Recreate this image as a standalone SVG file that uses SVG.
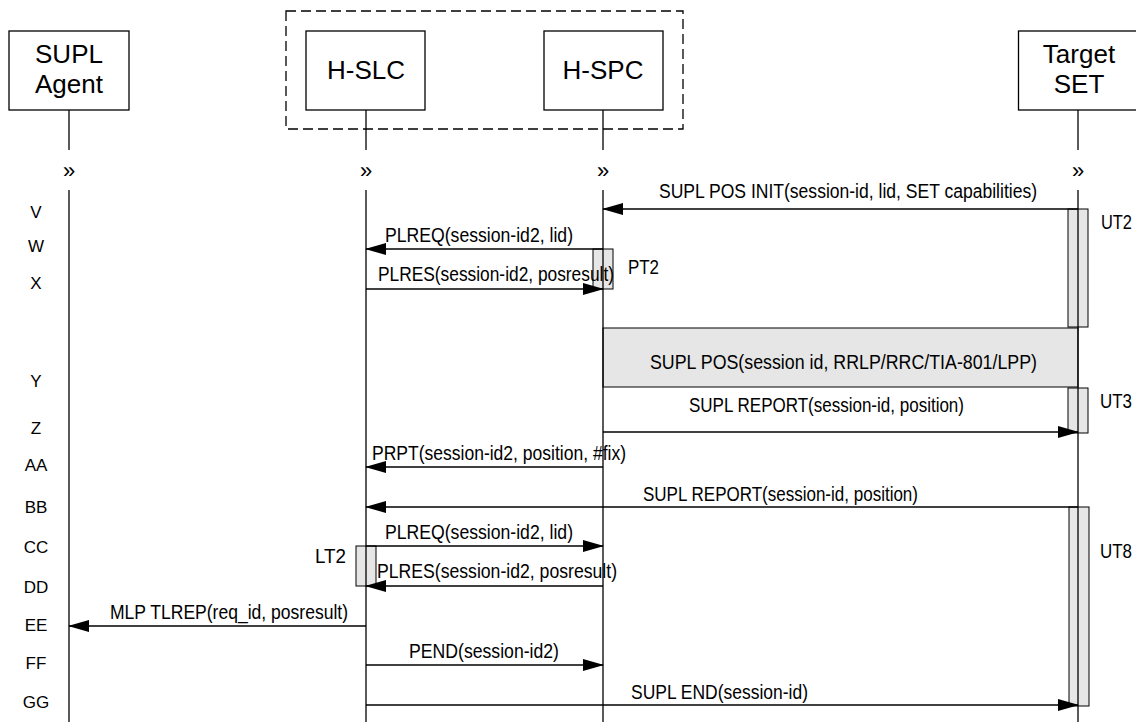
<svg xmlns="http://www.w3.org/2000/svg" width="1136" height="722" viewBox="0 0 1136 722">
<defs>
<style>
.box{fill:#fff;stroke:#000;stroke-width:1.3}
.act{fill:#e6e6e6;stroke:#000;stroke-width:1}
.life{stroke:#000;stroke-width:1.3;fill:none}
.msg{stroke:#000;stroke-width:1.3;fill:none;marker-end:url(#ah)}
.hd{font-family:"Liberation Sans",Arial,sans-serif;font-size:26px;fill:#000;text-anchor:middle}
.t{font-family:"Liberation Sans",Arial,sans-serif;font-size:19.5px;fill:#000}
.row{font-family:"Liberation Sans",Arial,sans-serif;font-size:17px;fill:#000;text-anchor:middle}
.cont{font-family:"Liberation Sans",Arial,sans-serif;font-size:22px;fill:#000;text-anchor:middle}
</style>
<marker id="ah" markerUnits="userSpaceOnUse" markerWidth="22" markerHeight="14" refX="20" refY="6" orient="auto">
<path d="M0,0 L21,6 L0,12 z" fill="#000"/>
</marker>
</defs>
<rect width="1136" height="722" fill="#fff"/>

<rect x="286" y="11" width="397" height="118" fill="none" stroke="#000" stroke-width="1.3" stroke-dasharray="10 5"/>

<g id="supl-agent">
<rect class="box" x="9" y="31" width="120" height="79"/>
<text class="hd" x="69" y="63">SUPL</text>
<text class="hd" x="69" y="93">Agent</text>
</g>
<g id="h-slc">
<rect class="box" x="306" y="31" width="119" height="79"/>
<text class="hd" x="366" y="79">H-SLC</text>
</g>
<g id="h-spc">
<rect class="box" x="544" y="31" width="119" height="79"/>
<text class="hd" x="603" y="79">H-SPC</text>
</g>
<g id="target-set">
<rect class="box" x="1018.5" y="31" width="119" height="79"/>
<text class="hd" x="1079" y="63">Target</text>
<text class="hd" x="1079" y="93">SET</text>
</g>

<g id="activations">
<rect class="act" x="1068" y="209" width="20" height="118"/>
<rect class="act" x="593" y="249" width="20" height="40"/>
<rect class="act" x="603" y="328" width="475" height="59"/>
<rect class="act" x="1068" y="388" width="20" height="45"/>
<rect class="act" x="1069" y="507" width="20" height="199"/>
<rect class="act" x="356" y="546" width="20" height="40"/>
</g>

<g id="lifelines">
<line class="life" x1="69" y1="110" x2="69" y2="150"/>
<line class="life" x1="366" y1="110" x2="366" y2="150"/>
<line class="life" x1="603" y1="110" x2="603" y2="150"/>
<line class="life" x1="1078" y1="110" x2="1078" y2="150"/>
<text class="cont" x="69" y="178">»</text>
<text class="cont" x="366" y="178">»</text>
<text class="cont" x="603" y="178">»</text>
<text class="cont" x="1078" y="178">»</text>
<line class="life" x1="69" y1="190" x2="69" y2="722"/>
<line class="life" x1="366" y1="190" x2="366" y2="722"/>
<line class="life" x1="603" y1="190" x2="603" y2="722"/>
<line class="life" x1="1078" y1="190" x2="1078" y2="722"/>
</g>

<g id="connectors">
<line class="msg" x1="1078" y1="209" x2="603" y2="209"/>
<line class="msg" x1="603" y1="249" x2="366" y2="249"/>
<line class="msg" x1="366" y1="289" x2="603" y2="289"/>
<line class="msg" x1="603" y1="432" x2="1078" y2="432"/>
<line class="msg" x1="603" y1="467" x2="366" y2="467"/>
<line class="msg" x1="1078" y1="507" x2="366" y2="507"/>
<line class="msg" x1="366" y1="546" x2="603" y2="546"/>
<line class="msg" x1="603" y1="586" x2="366" y2="586"/>
<line class="msg" x1="366" y1="626" x2="69" y2="626"/>
<line class="msg" x1="366" y1="665" x2="603" y2="665"/>
<line class="msg" x1="366" y1="705" x2="1078" y2="705"/>
</g>

<g id="labels">
<text class="t" x="659" y="198" textLength="378" lengthAdjust="spacingAndGlyphs">SUPL POS INIT(session-id, lid, SET capabilities)</text>
<text class="t" x="385" y="242" textLength="188" lengthAdjust="spacingAndGlyphs">PLREQ(session-id2, lid)</text>
<text class="t" x="378" y="281" textLength="236" lengthAdjust="spacingAndGlyphs">PLRES(session-id2, posresult)</text>
<text class="t" x="628" y="274" textLength="31" lengthAdjust="spacingAndGlyphs">PT2</text>
<text class="t" x="650" y="369" textLength="387" lengthAdjust="spacingAndGlyphs">SUPL POS(session id, RRLP/RRC/TIA-801/LPP)</text>
<text class="t" x="689" y="412" textLength="275" lengthAdjust="spacingAndGlyphs">SUPL REPORT(session-id, position)</text>
<text class="t" x="372" y="460" textLength="254" lengthAdjust="spacingAndGlyphs">PRPT(session-id2, position, #fix)</text>
<text class="t" x="643" y="501" textLength="275" lengthAdjust="spacingAndGlyphs">SUPL REPORT(session-id, position)</text>
<text class="t" x="385" y="539" textLength="188" lengthAdjust="spacingAndGlyphs">PLREQ(session-id2, lid)</text>
<text class="t" x="377" y="578" textLength="240" lengthAdjust="spacingAndGlyphs">PLRES(session-id2, posresult)</text>
<text class="t" x="110" y="619" textLength="238" lengthAdjust="spacingAndGlyphs">MLP TLREP(req_id, posresult)</text>
<text class="t" x="409" y="658" textLength="150" lengthAdjust="spacingAndGlyphs">PEND(session-id2)</text>
<text class="t" x="631" y="699" textLength="177" lengthAdjust="spacingAndGlyphs">SUPL END(session-id)</text>
<text class="t" x="1101" y="229" textLength="31" lengthAdjust="spacingAndGlyphs">UT2</text>
<text class="t" x="1100" y="408" textLength="32" lengthAdjust="spacingAndGlyphs">UT3</text>
<text class="t" x="1100" y="558" textLength="32" lengthAdjust="spacingAndGlyphs">UT8</text>
<text class="t" x="315" y="563" textLength="31" lengthAdjust="spacingAndGlyphs">LT2</text>
</g>

<g id="row-labels">
<text class="row" x="36" y="218">V</text>
<text class="row" x="36" y="252">W</text>
<text class="row" x="36" y="289">X</text>
<text class="row" x="36" y="387">Y</text>
<text class="row" x="36" y="434">Z</text>
<text class="row" x="36" y="471">AA</text>
<text class="row" x="36" y="513">BB</text>
<text class="row" x="36" y="553">CC</text>
<text class="row" x="36" y="593">DD</text>
<text class="row" x="36" y="631">EE</text>
<text class="row" x="36" y="669">FF</text>
<text class="row" x="36" y="708">GG</text>
</g>
</svg>
